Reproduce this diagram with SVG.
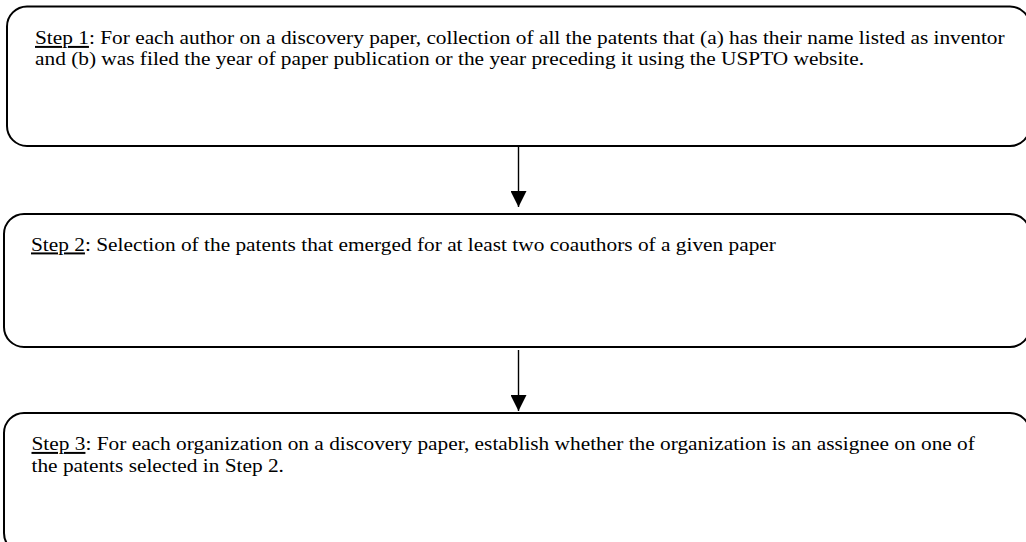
<svg xmlns="http://www.w3.org/2000/svg" width="1026" height="542" viewBox="0 0 1026 542">
<style>
.box{fill:#fff;stroke:#000;stroke-width:2}
.t{font-family:"Liberation Serif","Times New Roman",serif;font-size:19.8px;fill:#000}
.u{text-decoration:underline}
.c{stroke:#000;stroke-width:1.4;fill:none}
</style>
<defs>
<marker id="ah" markerWidth="16" markerHeight="16" viewBox="0 0 16 16" refX="16" refY="8" orient="auto" markerUnits="userSpaceOnUse">
<path d="M0,0 L16,8 L0,16 Z" fill="#000"/>
</marker>
</defs>
<rect width="1026" height="542" fill="#fff"/>
<g id="step1">
<rect class="box" x="7" y="6.5" width="1023" height="139.5" rx="20" ry="20"/>
<text class="t" transform="translate(35,44) scale(1.078,1)"><tspan class="u">Step 1</tspan>: For each author on a discovery paper, collection of all the patents that (a) has their name listed as inventor</text>
<text class="t" transform="translate(35,64.5) scale(1.078,1)">and (b) was filed the year of paper publication or the year preceding it using the USPTO website.</text>
</g>
<g id="step2">
<rect class="box" x="4" y="214" width="1026" height="133" rx="20" ry="20"/>
<text class="t" transform="translate(31,250.5) scale(1.078,1)"><tspan class="u">Step 2</tspan>: Selection of the patents that emerged for at least two coauthors of a given paper</text>
</g>
<g id="step3">
<rect class="box" x="4" y="413" width="1026" height="140" rx="20" ry="20"/>
<text class="t" transform="translate(31.5,450) scale(1.078,1)"><tspan class="u">Step 3</tspan>: For each organization on a discovery paper, establish whether the organization is an assignee on one of</text>
<text class="t" transform="translate(31.5,471.5) scale(1.078,1)">the patents selected in Step 2.</text>
</g>
<g id="connectors">
<line class="c" x1="518.5" y1="146" x2="518.5" y2="207" marker-end="url(#ah)"/>
<line class="c" x1="518.5" y1="350" x2="518.5" y2="411" marker-end="url(#ah)"/>
</g>
</svg>
